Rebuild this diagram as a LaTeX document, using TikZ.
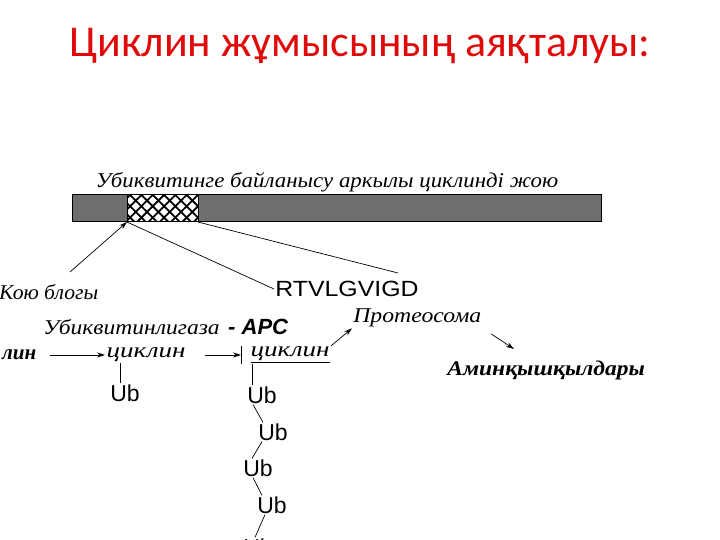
\documentclass[tikz,border=0pt]{standalone}
\usepackage{fontspec}
\setmainfont{Liberation Serif}
\newfontfamily\titlefont{Carlito}
\newfontfamily\seqfont{Liberation Sans}
\usetikzlibrary{arrows.meta, positioning, patterns.meta}
\definecolor{titlered}{RGB}{225, 10, 10}
\definecolor{bargray}{RGB}{110, 110, 110}

\begin{document}
\begin{tikzpicture}[x=1pt, y=-1pt,
    lbl/.style={font=\itshape\fontsize{21}{23}\selectfont, inner sep=1pt},
    boldlbl/.style={font=\bfseries\itshape\fontsize{21}{23}\selectfont, inner sep=1pt},
    wide/.style={xscale=#1, transform shape},
    ubnode/.style={font=\seqfont\fontsize{23}{25}\selectfont, inner sep=1pt},
    link/.style={line width=0.7pt},
    arr/.style={-{Stealth[length=8pt, width=5pt]}, line width=0.7pt}]
  \useasboundingbox (0,0) rectangle (720,540);
  \fill[white] (0,0) rectangle (720,540);

  % Title
  \node[font=\titlefont\fontsize{44}{48}\selectfont, text=titlered] (title) at (360,46) {Циклин жұмысының аяқталуы:};

  % Cyclin bar
  \node[lbl, wide=1.09] (bartitle) at (327,182) {Убиквитинге байланысу аркылы циклинді жою};
  \fill[bargray] (72,195) rectangle (601,222);
  \fill[white] (127,195) rectangle (198,222);
  \fill[pattern={Lines[angle=45, distance=8pt, line width=1.8pt]}] (127,195) rectangle (198,222);
  \fill[pattern={Lines[angle=-45, distance=8pt, line width=1.8pt]}] (127,195) rectangle (198,222);
  \draw[line width=1pt] (72,195) rectangle (601,222);
  \draw[line width=1pt] (127,195) -- (127,222) (198,195) -- (198,222);
  \coordinate (boxL) at (127,222);
  \coordinate (boxR) at (198,222);

  % Destruction box and motif
  \node[lbl, wide=1.03, anchor=west] (degbox) at (-2,292) {Кою блогы};
  \node[font=\seqfont\fontsize{22}{24}\selectfont, inner sep=1pt, wide=1.13, anchor=west] (motif) at (274,289) {RTVLGVIGD};
  \coordinate (degtail) at (70,272);
  \coordinate (motiftop) at (398,273);
  \draw[arr] (degtail) -- (boxL);
  \draw[link] (boxL) -- (motif.west);
  \draw[link] (boxR) -- (motiftop);

  % Ubiquitination row
  \node[lbl, wide=1.12, anchor=west] (ligase) at (42,327) {Убиквитинлигаза};
  \node[font=\seqfont\bfseries\itshape\fontsize{22}{24}\selectfont, inner sep=1pt, anchor=west] (apc) at (227,327) {- APC};
  \node[boldlbl, anchor=west] (cutcyc) at (1,355) {лин};
  \node[lbl, wide=1.29, anchor=west] (cyc1) at (105,355) {циклин};
  \coordinate (tick) at (241,355);
  \node[lbl, wide=1.29, anchor=west] (cyc2) at (249,355) {\underline{циклин}};
  \draw[arr, shorten <=12pt] (cutcyc.east) -- (cyc1.west);
  \draw[arr, shorten <=18pt] (cyc1.east) -- (tick);
  \draw[link] ([yshift=-9pt]tick) -- ([yshift=9pt]tick);

  % Ub chain
  \node[ubnode] (ub1) at (125,393) {Ub};
  \node[ubnode] (ub2) at (262,395) {Ub};
  \node[ubnode] (ub3) at (273,432) {Ub};
  \node[ubnode] (ub4) at (258,468) {Ub};
  \node[ubnode] (ub5) at (272,505) {Ub};
  \node[ubnode] (ub6) at (258,547) {Ub};
  \draw[link] ([xshift=-5pt]ub1.north) -- ([xshift=-5pt]ub1.north |- cyc1.south);
  \draw[link] ([xshift=3pt]cyc2.south west) -- ([xshift=3pt]cyc2.south west |- ub2.north);
  \draw[link] ([xshift=-9pt]ub2.south) -- ([xshift=-10pt]ub3.north);
  \draw[link] ([xshift=-11pt]ub3.south) -- ([xshift=-6pt]ub4.north);
  \draw[link] ([xshift=-5pt]ub4.south) -- ([xshift=-10pt]ub5.north);
  \draw[link] ([xshift=-7pt]ub5.south) -- ([xshift=-3pt]ub6.north);

  % Proteasome
  \node[lbl, wide=1.13, anchor=west] (prot) at (352,318) {Протеосома};
  \node[boldlbl, wide=1.12, anchor=west] (amino) at (446,370) {Аминқышқылдары};
  \coordinate (aminoin) at (514,349);
  \draw[arr] (cyc2.north east) -- (prot.south west);
  \draw[arr, shorten <=10pt] (prot.south east) -- (aminoin);
\end{tikzpicture}
\end{document}
